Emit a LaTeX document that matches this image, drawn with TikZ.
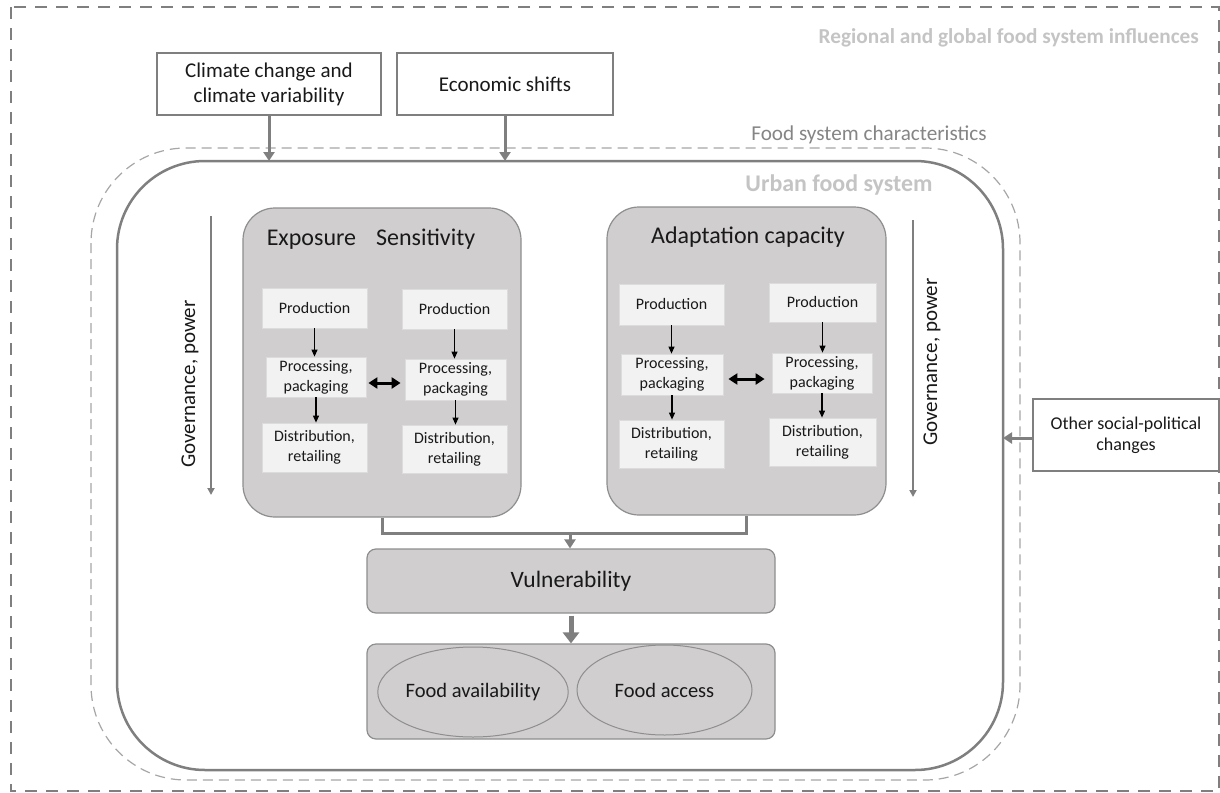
\documentclass[tikz,border=0pt]{standalone}
\usepackage{fontspec}
\setmainfont{Carlito}
\usetikzlibrary{arrows.meta,shapes.geometric,calc}
\definecolor{lgray}{HTML}{7F7F7F}
\definecolor{boxgray}{HTML}{D0CECE}
\definecolor{boxedge}{HTML}{8E8E8E}
\definecolor{stepfill}{HTML}{F2F2F2}
\definecolor{stepedge}{HTML}{DCDCDC}
\definecolor{paletxt}{HTML}{C4C4C4}
\definecolor{midtxt}{HTML}{858585}
\definecolor{middash}{HTML}{A6A6A6}
\tikzset{
  fs/.style 2 args={font=\fontsize{#1}{#2}\selectfont},
  outerframe/.style={draw=lgray, line width=2.5pt, dash pattern=on 12pt off 9pt},
  midframe/.style={draw=middash, line width=1.2pt, dash pattern=on 10pt off 6pt, rounded corners=95pt},
  solidframe/.style={draw=lgray, line width=2.5pt, rounded corners=88pt},
  topbox/.style={draw=lgray, line width=1.1pt, fill=white, align=center, inner sep=0pt, text=black!90},
  graybox/.style={draw=boxedge, line width=1.2pt, fill=boxgray, rounded corners=32pt, inner sep=0pt},
  resbox/.style={draw=boxedge, line width=1.2pt, fill=boxgray, rounded corners=9pt, inner sep=0pt},
  stepbox/.style={draw=stepedge, line width=0.8pt, fill=stepfill, align=center, inner sep=0pt,
     font=\fontsize{16}{20}\selectfont, text=black!90},
  ovalbox/.style={ellipse, draw=boxedge, line width=1pt, fill=boxgray, inner sep=0pt,
     font=\fontsize{20.5}{24}\selectfont, text=black!90},
  garrow/.style={draw=lgray, line width=3pt, -{Triangle[width=11pt,length=9pt]}},
  fatarrow/.style={draw=lgray, line width=5pt, -{Triangle[width=16pt,length=11pt]}},
  conn/.style={draw=lgray, line width=3pt},
  govarrow/.style={draw=lgray, line width=2pt, -{Triangle[width=7pt,length=7pt]}},
  blkarrow/.style={draw=black, line width=1.1pt, -{Triangle[width=6pt,length=7pt]}},
  dblarrow/.style={draw=black, line width=3pt, {Triangle[width=11pt,length=9pt]}-{Triangle[width=11pt,length=9pt]}},
}
\begin{document}
\begin{tikzpicture}[x=1pt,y=-1pt]
\useasboundingbox (0,0) rectangle (1220,792);
% frames
\draw[outerframe] (11,7) rectangle (1219,791);
\draw[midframe] (91,148) rectangle (1020,780);
\draw[solidframe] (117,161) rectangle (1003,770);
\coordinate (ftop) at (600,161);
\coordinate (fright) at (1003,400);
% frame labels
\node[fs={21.3}{25}, text=paletxt, anchor=east, inner sep=0pt] (lregion) at (1199,38) {\bfseries Regional and global food system influences};
\node[fs={21.2}{25}, text=midtxt, inner sep=0pt] (lchar) at (869,135) {Food system characteristics};
\node[fs={23.9}{28}, text=paletxt, inner sep=0pt] (lurban) at (839,185) {\bfseries Urban food system};
% external drivers
\node[topbox, fs={21}{25}, minimum width=224pt, minimum height=62pt] (clim) at (269,84) {Climate change and\\climate variability};
\node[topbox, fs={21}{25}, minimum width=216pt, minimum height=62pt] (econ) at (505,84) {Economic shifts};
\node[topbox, fs={18}{21}, minimum width=186pt, minimum height=72pt] (other) at (1126,435) {Other social-political\\changes};
\draw[garrow] (clim.south) -- (clim.south |- ftop);
\draw[garrow] (econ.south) -- (econ.south |- ftop);
\draw[garrow] ($(other.west)+(0,3)$) -- ($(other.west -| fright)+(0,3)$);
% governance
\coordinate (g1a) at (211,216);
\coordinate (g1b) at (211,495);
\coordinate (g2a) at (913,220);
\coordinate (g2b) at (913,497);
\draw[govarrow] (g1a) -- (g1b);
\draw[govarrow] (g2a) -- (g2b);
\node[fs={21}{25}, rotate=90, inner sep=0pt, text=black!90] (gov1) at (190,384) {Governance, power};
\node[fs={21}{25}, rotate=90, inner sep=0pt, text=black!90] (gov2) at (932,362) {Governance, power};
% big gray boxes
\node[graybox, minimum width=278pt, minimum height=309pt] (E) at (382,362.5) {};
\node[graybox, minimum width=279pt, minimum height=308pt] (A) at (746.5,361) {};
\node[fs={24}{28}, inner sep=0pt, text=black!90] (tE) at (371,239) {Exposure\hspace{20pt}Sensitivity};
\node[fs={24}{28}, inner sep=0pt, text=black!90] (tA) at (748,237) {Adaptation capacity};
% chains
\node[stepbox, minimum width=105pt, minimum height=40pt] (P1) at (314.5,308) {Production};
\node[stepbox, minimum width=100pt, minimum height=40pt] (Q1) at (316,377) {Processing,\\packaging};
\node[stepbox, minimum width=105pt, minimum height=49pt] (D1) at (314.5,447.5) {Distribution,\\retailing};
\node[stepbox, minimum width=105pt, minimum height=40pt] (P2) at (454.5,309) {Production};
\node[stepbox, minimum width=101pt, minimum height=41pt] (Q2) at (455.5,379.5) {Processing,\\packaging};
\node[stepbox, minimum width=105pt, minimum height=48pt] (D2) at (454.5,449) {Distribution,\\retailing};
\node[stepbox, minimum width=105pt, minimum height=41pt] (P3) at (671.5,304.5) {Production};
\node[stepbox, minimum width=102pt, minimum height=41pt] (Q3) at (672,374.5) {Processing,\\packaging};
\node[stepbox, minimum width=105pt, minimum height=48pt] (D3) at (671.5,444) {Distribution,\\retailing};
\node[stepbox, minimum width=107pt, minimum height=39pt] (P4) at (822.5,302.5) {Production};
\node[stepbox, minimum width=100pt, minimum height=40pt] (Q4) at (822,373) {Processing,\\packaging};
\node[stepbox, minimum width=107pt, minimum height=48pt] (D4) at (822.5,442) {Distribution,\\retailing};
\foreach \p/\q/\d in {P1/Q1/D1,P2/Q2/D2,P3/Q3/D3,P4/Q4/D4}{
  \draw[blkarrow] (\p.south) -- (\p.south |- \q.north);
  \draw[blkarrow] (\q.south) -- (\q.south |- \d.north);
}
\draw[dblarrow] ($(Q1.east)+(2,6)$) -- ($(Q1.east -| Q2.west)+(-4,6)$);
\draw[dblarrow] ($(Q3.east)+(5,4.5)$) -- ($(Q3.east -| Q4.west)+(-7,4.5)$);
% vulnerability
\node[resbox, minimum width=408pt, minimum height=64pt, fs={23.5}{28}, text=black!90] (V) at (571,581) {Vulnerability};
\node[resbox, minimum width=408pt, minimum height=95pt] (F) at (571,691.5) {};
\node[ovalbox, minimum width=182pt, minimum height=90pt] (fav) at (473,692) {Food availability};
\node[ovalbox, minimum width=175pt, minimum height=90pt] (fac) at (664.5,690) {Food access};
\coordinate (j) at (570,533);
\draw[conn] (E.south) |- (j) -| (A.south);
\draw[garrow] (j) -- (j |- V.north);
\draw[fatarrow] ($(V.south)+(0,2)$) -- (V.south |- F.north);
\end{tikzpicture}
\end{document}
